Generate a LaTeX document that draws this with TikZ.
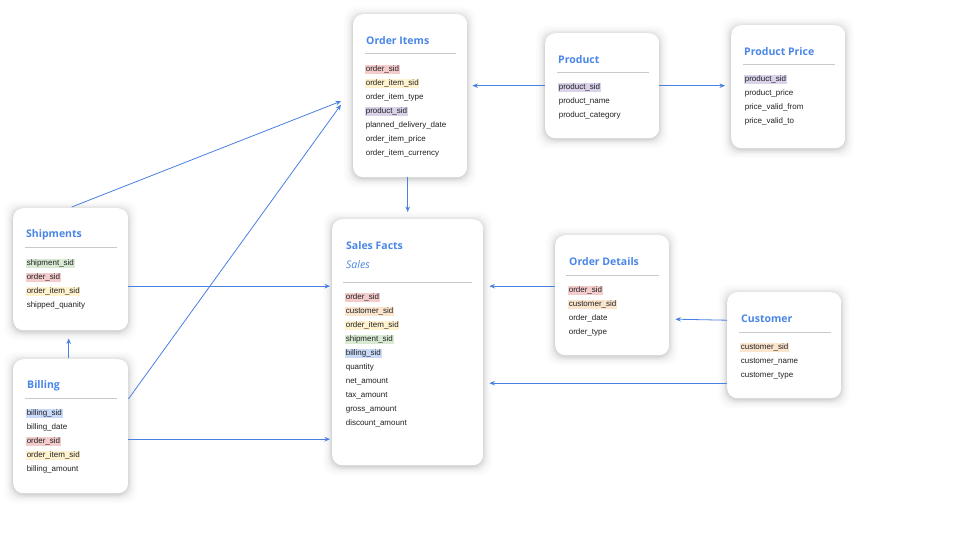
\documentclass[tikz,border=0pt]{standalone}
\usepackage{fontspec}
\setmainfont{Liberation Sans}
\newfontfamily\headfont{Open Sans}
\usetikzlibrary{calc,arrows.meta}

\definecolor{linkblue}{HTML}{4A80E2}
\definecolor{headblue}{HTML}{4A86E8}
\definecolor{ink}{HTML}{202124}
\definecolor{rulegrey}{HTML}{C9C9C9}
\definecolor{hlorder}{HTML}{F4CCCC}
\definecolor{hlitem}{HTML}{FFF2CC}
\definecolor{hlproduct}{HTML}{D9D2E9}
\definecolor{hlship}{HTML}{D9EAD3}
\definecolor{hlcust}{HTML}{FCE5CD}
\definecolor{hlbill}{HTML}{C9DAF8}

\tikzset{
  card/.style={fill=white, rounded corners=10pt, anchor=north west, inner sep=0pt},
  cardtitle/.style={anchor=west, inner sep=0pt, text=headblue,
    font=\headfont\bfseries\fontsize{10.5}{12}\selectfont},
  cardsub/.style={anchor=west, inner sep=0pt, text=headblue,
    font=\headfont\itshape\fontsize{10.5}{12}\selectfont},
  field/.style={anchor=west, inner xsep=0.6pt, inner ysep=0.9pt,
    text height=5.9pt, text depth=1.9pt, text=ink,
    font=\fontsize{8}{9.6}\selectfont},
  plain/.style={},
  hlo/.style={fill=hlorder},
  hli/.style={fill=hlitem},
  hlp/.style={fill=hlproduct},
  hls/.style={fill=hlship},
  hlc/.style={fill=hlcust},
  hlb/.style={fill=hlbill},
  sepline/.style={draw=rulegrey, line width=0.7pt},
  link/.style={draw=linkblue, line width=0.8pt, -{Stealth[length=5.5pt,width=4.5pt]}},
}

% card with a soft grey glow: name, x, y, width, height
\newcommand\tablecard[5]{%
  \foreach \k/\o in {9/0.012, 7/0.016, 5/0.022, 3.4/0.03, 2/0.038, 0.8/0.045}{%
    \fill[black, opacity=\o, rounded corners=12pt]
      (#2-\k, #3-\k+1.5) rectangle (#2+#4+\k, #3+#5+\k+1.5);
  }%
  \node[card, minimum width=#4pt, minimum height=#5pt] (#1) at (#2,#3) {};%
}

\begin{document}
\begin{tikzpicture}[x=1pt, y=-1pt]
  \fill[white] (0,0) rectangle (960,540);
  \useasboundingbox (0,0) rectangle (960,540);

  % ---- cards ----
  \tablecard{oi}{353}{14}{114}{163}
  \tablecard{prod}{545}{33}{114}{105}
  \tablecard{pp}{731}{25}{114}{123}
  \tablecard{ship}{13}{208}{115}{122}
  \tablecard{bill}{13}{359}{115}{134}
  \tablecard{sf}{332}{219}{151}{246}
  \tablecard{od}{555}{235}{114}{120}
  \tablecard{cust}{727}{292}{114}{106}

  % ---- Order Items ----
  \node[cardtitle] (oi-title) at (366,41) {Order Items};
  \draw[sepline] (365,53) -- (456,53);
  \foreach \t/\s [count=\i] in {order\_sid/hlo, order\_item\_sid/hli,
      order\_item\_type/plain, product\_sid/hlp, planned\_delivery\_date/plain,
      order\_item\_price/plain, order\_item\_currency/plain}
    \node[field, \s] (oi-f\i) at (365, 55.5+14*\i) {\t};

  % ---- Product ----
  \node[cardtitle] (prod-title) at (558,60) {Product};
  \draw[sepline] (557,72) -- (649,72);
  \foreach \t/\s [count=\i] in {product\_sid/hlp, product\_name/plain,
      product\_category/plain}
    \node[field, \s] (prod-f\i) at (558, 73.5+14*\i) {\t};

  % ---- Product Price ----
  \node[cardtitle] (pp-title) at (744,52) {Product Price};
  \draw[sepline] (743,64) -- (835,64);
  \foreach \t/\s [count=\i] in {product\_sid/hlp, product\_price/plain,
      price\_valid\_from/plain, price\_valid\_to/plain}
    \node[field, \s] (pp-f\i) at (744, 65.5+14*\i) {\t};

  % ---- Shipments ----
  \node[cardtitle] (ship-title) at (26,235) {Shipments};
  \draw[sepline] (25,247) -- (117,247);
  \foreach \t/\s [count=\i] in {shipment\_sid/hls, order\_sid/hlo,
      order\_item\_sid/hli, shipped\_quanity/plain}
    \node[field, \s] (ship-f\i) at (26, 249.5+14*\i) {\t};

  % ---- Billing ----
  \node[cardtitle] (bill-title) at (27,386) {Billing};
  \draw[sepline] (25,398) -- (117,398);
  \foreach \t/\s [count=\i] in {billing\_sid/hlb, billing\_date/plain,
      order\_sid/hlo, order\_item\_sid/hli, billing\_amount/plain}
    \node[field, \s] (bill-f\i) at (26, 399.5+14*\i) {\t};

  % ---- Sales Facts ----
  \node[cardtitle] (sf-title) at (346,246) {Sales Facts};
  \node[cardsub] (sf-sub) at (346,265) {Sales};
  \draw[sepline] (343,282) -- (472,282);
  \foreach \t/\s [count=\i] in {order\_sid/hlo, customer\_sid/hlc,
      order\_item\_sid/hli, shipment\_sid/hls, billing\_sid/hlb, quantity/plain,
      net\_amount/plain, tax\_amount/plain, gross\_amount/plain,
      discount\_amount/plain}
    \node[field, \s] (sf-f\i) at (345, 283.5+14*\i) {\t};

  % ---- Order Details ----
  \node[cardtitle] (od-title) at (569,262) {Order Details};
  \draw[sepline] (566,275) -- (659,275);
  \foreach \t/\s [count=\i] in {order\_sid/hlo, customer\_sid/hlc,
      order\_date/plain, order\_type/plain}
    \node[field, \s] (od-f\i) at (568, 276.5+14*\i) {\t};

  % ---- Customer ----
  \node[cardtitle] (cust-title) at (741,319) {Customer};
  \draw[sepline] (739,332) -- (831,332);
  \foreach \t/\s [count=\i] in {customer\_sid/hlc, customer\_name/plain,
      customer\_type/plain}
    \node[field, \s] (cust-f\i) at (740, 333.5+14*\i) {\t};

  % ---- relationships ----
  \draw[link] ($(ship.north)+(1,-1)$) -- ($(oi.west)+(-12,5.5)$);
  \draw[link] ($(bill.north east)+(0,40)$) -- ($(oi.west)+(-12,9)$);
  \draw[link] (sf.north |- oi.south) -- ($(sf.north)+(0,-7)$);
  \draw[link] (prod.west) -- ($(oi.east |- prod.west)+(5,0)$);
  \draw[link] (prod.east) -- ($(pp.west |- prod.east)+(-6,0)$);
  \draw[link] ($(ship.east)+(0,17)$) -- ($(sf.west |- ship.east)+(-2,17)$);
  \draw[link] ($(bill.east)+(0,13)$) -- ($(sf.west |- bill.east)+(-2,13)$);
  \draw[link] ($(bill.north)+(-2,-1)$) -- ($(ship.south)+(-2,8)$);
  \draw[link] ($(od.west)+(0,-9)$) -- ($(sf.east |- od.west)+(6,-9)$);
  \draw[link] ($(cust.west)+(0,-25)$) -- ($(od.east |- cust.west)+(6,-26)$);
  \draw[link] ($(cust.west)+(0,38)$) -- ($(sf.east |- cust.west)+(6,38)$);
\end{tikzpicture}
\end{document}
